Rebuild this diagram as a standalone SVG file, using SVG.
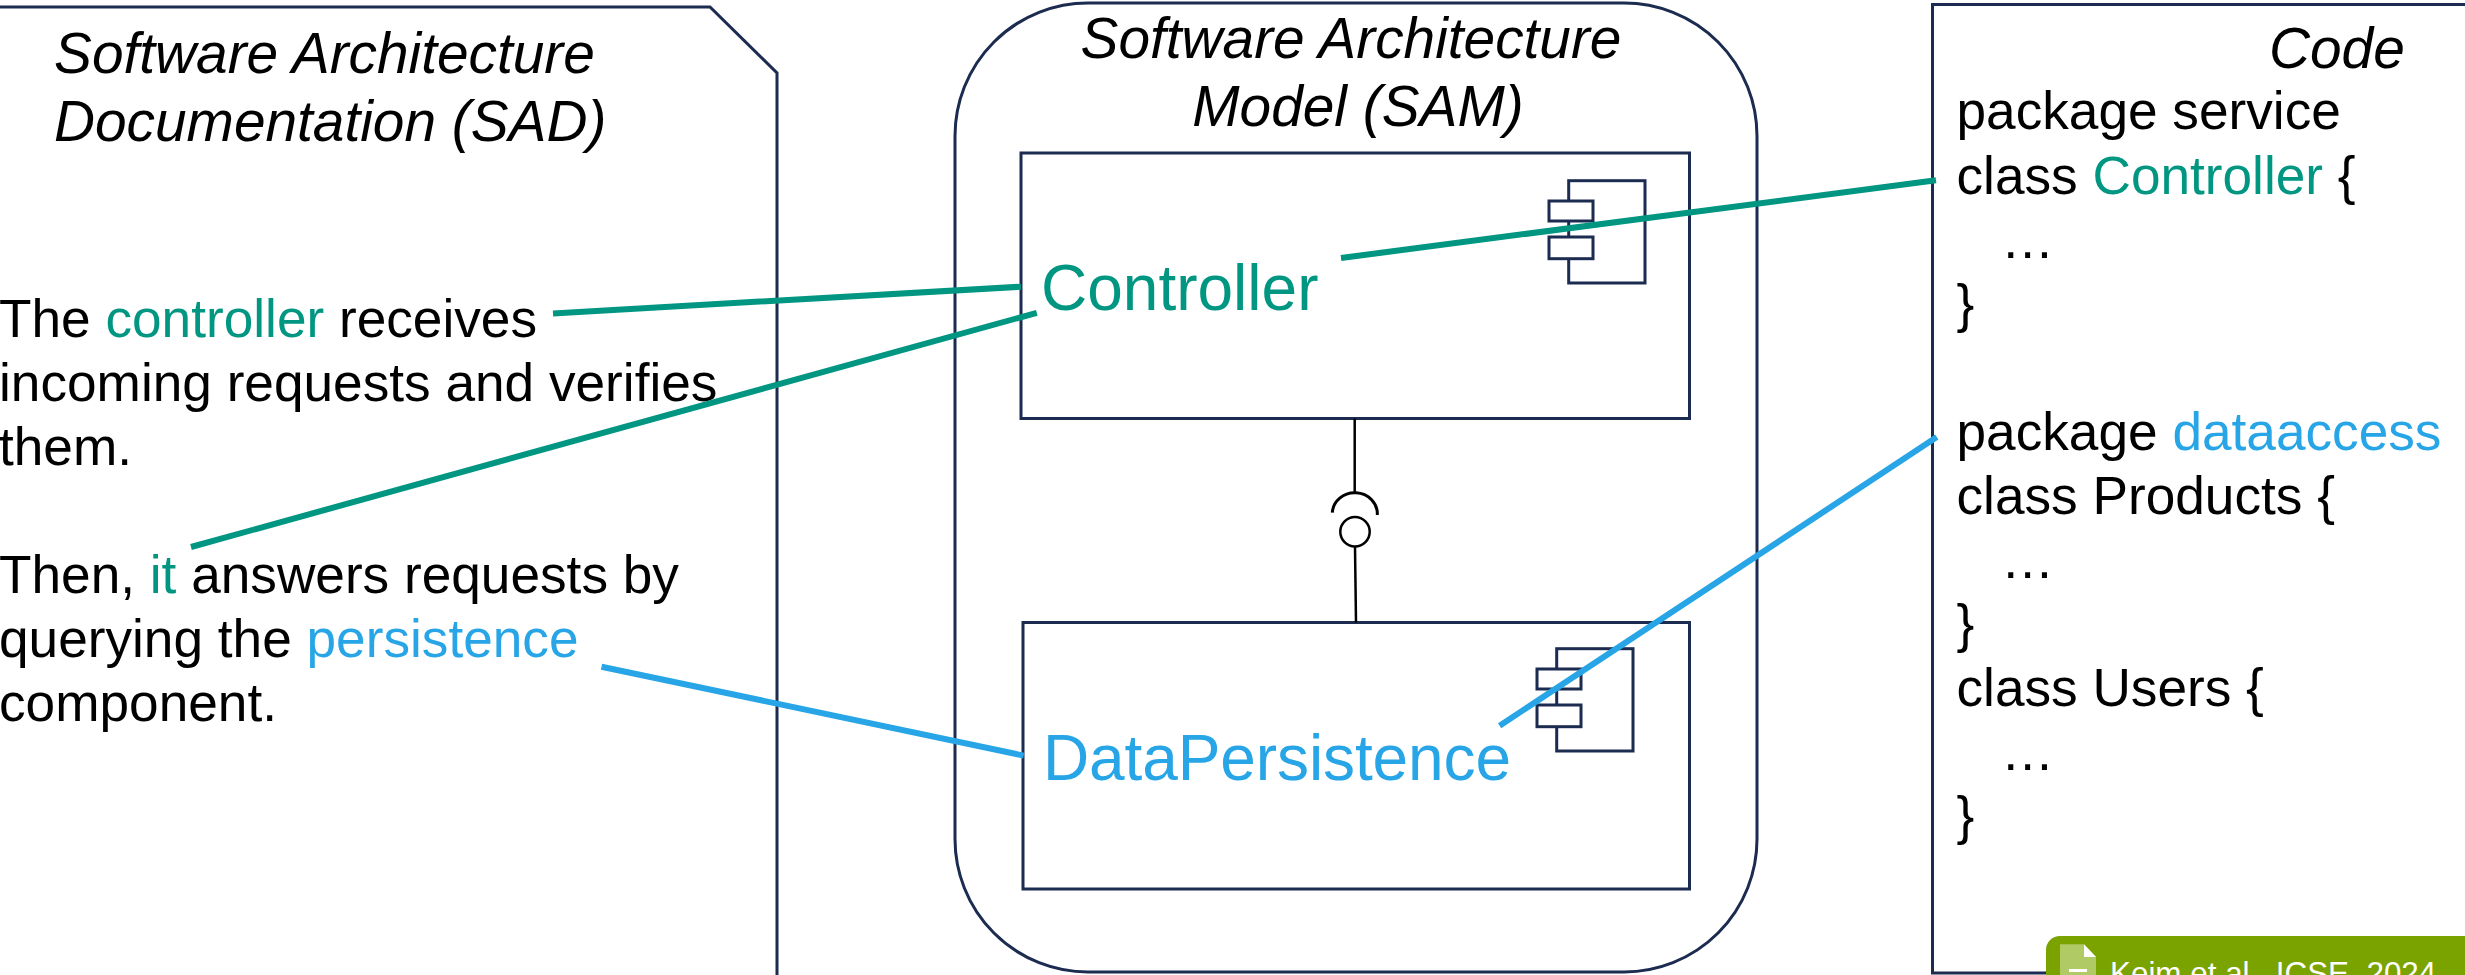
<svg xmlns="http://www.w3.org/2000/svg" width="2465" height="975" viewBox="0 0 2465 975">
<style>
text{font-family:"Liberation Sans",Arial,sans-serif;fill:#000}
.t{font-size:56.8px;font-style:italic}
.b{font-size:53.2px}
.n{font-size:64px}
.g{fill:#009682}
.c{fill:#27A5E6}
.s{fill:none;stroke:#1C2B50;stroke-width:3}
.i{fill:#fff;stroke:#1C2B50;stroke-width:3}
.k{fill:none;stroke:#000;stroke-width:2.5}
.lg{stroke:#009682;stroke-width:6;fill:none}
.lc{stroke:#27A5E6;stroke-width:6;fill:none}
</style>
<defs>
<g id="icon">
<rect class="s" x="1568.7" y="180.7" width="76.3" height="102.3"/>
<rect class="i" x="1549" y="201" width="44" height="20"/>
<rect class="i" x="1549" y="237" width="44" height="21.7"/>
</g>
</defs>
<rect width="2465" height="975" fill="#fff"/>
<g id="sad">
<path class="s" d="M-5 7H710L777 73V980"/>
<text class="t"><tspan x="54" y="73">Software Architecture</tspan><tspan x="54" y="141">Documentation (SAD)</tspan></text>
<text class="b"><tspan x="-1" y="337">The <tspan class="g">controller</tspan> receives</tspan><tspan x="-1" y="401">incoming requests and verifies</tspan><tspan x="-1" y="465">them.</tspan><tspan x="-1" y="593">Then, <tspan class="g">it</tspan> answers requests by</tspan><tspan x="-1" y="657">querying the <tspan class="c">persistence</tspan></tspan><tspan x="-1" y="721">component.</tspan></text>
</g>
<g id="sam">
<rect class="s" x="955" y="3" width="802" height="969" rx="133" ry="133"/>
<text class="t" text-anchor="middle"><tspan x="1351" y="58">Software Architecture</tspan><tspan x="1358" y="126">Model (SAM)</tspan></text>
</g>
<g id="controller">
<rect class="s" x="1021" y="153" width="668.5" height="265.5"/>
<use href="#icon"/>
<text class="n g" x="1041" y="310">Controller</text>
</g>
<g id="datapersistence">
<rect class="s" x="1023" y="622.5" width="666.5" height="266.5"/>
<use href="#icon" x="-12" y="468"/>
<text class="n c" x="1043" y="780" textLength="468">DataPersistence</text>
</g>
<g id="code">
<path class="s" d="M2470 4.5H1932.5V973H2470"/>
<text class="t" x="2269" y="68">Code</text>
<text class="b"><tspan x="1956.5" y="129">package service</tspan><tspan x="1956.5" y="194">class <tspan class="g">Controller</tspan> {</tspan><tspan x="2001" y="258">…</tspan><tspan x="1956.5" y="322">}</tspan><tspan x="1956.5" y="450">package <tspan class="c">dataaccess</tspan></tspan><tspan x="1956.5" y="514">class Products {</tspan><tspan x="2001" y="578">…</tspan><tspan x="1956.5" y="642">}</tspan><tspan x="1956.5" y="706">class Users {</tspan><tspan x="2001" y="770">…</tspan><tspan x="1956.5" y="834">}</tspan></text>
</g>
<g id="citation">
<path d="M2470 936H2060a14 14 0 0 0-14 14V980H2470Z" fill="#7AA300"/>
<path d="M2060 944.3H2084L2096 957V980H2060Z" fill="#B0CB66"/>
<path d="M2084 944.3L2096 957H2084Z" fill="#fff"/>
<rect x="2069" y="969" width="18" height="3" fill="#fff"/>
<text x="2110" y="984" font-size="31.4" style="fill:#fff">Keim et al., ICSE, 2024</text>
</g>
<g id="connectors">
<path class="k" d="M1354.7 418.5V492"/>
<path class="k" style="stroke-width:3" d="M1332.3 512.7A22.5 21 0 0 1 1377.3 515"/>
<circle class="k" cx="1355" cy="531.7" r="14.7"/>
<path class="k" d="M1355 546.5L1356 622.5"/>
<path class="lg" d="M553 313.4L1021 286.7M191 547L1036.8 312.8M1341 258L1936 180.3"/>
<path class="lc" d="M601.5 666.7L1023.7 755.6M1499.6 725.7L1936.8 437"/>
</g>
</svg>
